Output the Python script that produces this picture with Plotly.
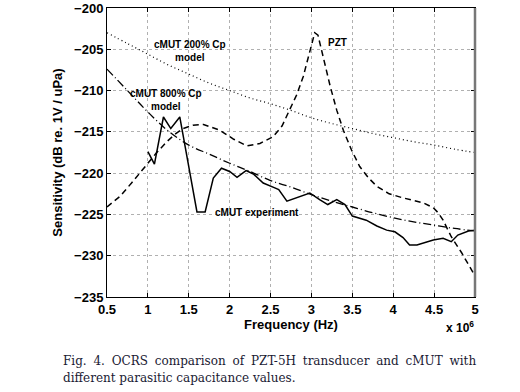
import plotly.graph_objects as go

# ---- data (frequency in units of 1e6 Hz, sensitivity in dB) ----
exp_f = [1.0, 1.08, 1.19, 1.28, 1.39, 1.60, 1.70, 1.80, 1.90, 2.0, 2.09, 2.2, 2.29, 2.41, 2.53,
         2.60, 2.70, 2.85, 2.98, 3.1, 3.2, 3.31, 3.41, 3.50, 3.67, 3.80, 3.92, 4.02, 4.12, 4.20,
         4.29, 4.49, 4.61, 4.71, 4.79, 4.92, 5.0]
exp_v = [-217.4, -218.9, -213.2, -214.6, -213.2, -224.7, -224.7, -220.6, -219.4, -219.8, -220.5,
         -219.7, -220.1, -221.2, -221.7, -222.0, -223.4, -222.9, -222.4, -223.2, -223.8, -223.2,
         -223.8, -225.2, -225.7, -226.4, -226.9, -227.1, -227.8, -228.7, -228.7, -228.1, -227.9,
         -228.3, -227.5, -227.0, -226.9]

m800_f = [0.5, 0.75, 1.0, 1.25, 1.5, 1.75, 2.0, 2.25, 2.5, 2.75, 3.0, 3.25, 3.5, 3.75, 4.0,
          4.25, 4.5, 4.75, 5.0]
m800_v = [-207.4, -210.0, -212.6, -214.9, -216.6, -217.7, -218.8, -219.8, -220.9, -221.7, -222.6,
          -223.4, -224.1, -224.8, -225.4, -225.9, -226.3, -226.7, -227.0]

m200_f = [0.5, 0.75, 1.0, 1.25, 1.5, 1.75, 2.0, 2.25, 2.5, 2.75, 3.0, 3.25, 3.5, 3.75, 4.0,
          4.25, 4.5, 4.75, 5.0]
m200_v = [-203.0, -204.3, -205.6, -206.9, -208.0, -209.1, -210.0, -210.9, -211.6, -212.4, -213.3,
          -214.0, -214.6, -215.2, -215.7, -216.2, -216.6, -217.1, -217.5]

pzt_f = [0.5, 0.66, 0.8, 0.985, 1.1, 1.23, 1.33, 1.43, 1.55, 1.68, 1.88, 2.05, 2.21, 2.37, 2.53,
         2.64, 2.74, 2.82, 2.9, 2.97, 3.04, 3.08, 3.15, 3.23, 3.31, 3.39, 3.49, 3.59, 3.7, 3.8,
         3.95, 4.12, 4.37, 4.49, 4.55, 4.61, 4.71, 4.84, 4.98, 5.0]
pzt_v = [-224.1, -222.8, -221.2, -219.0, -217.6, -216.2, -215.3, -214.6, -214.2, -214.1, -214.8,
         -215.9, -216.7, -216.4, -215.6, -214.3, -212.3, -210.5, -208.3, -205.5, -203.0, -203.3,
         -206.2, -209.5, -212.4, -214.8, -217.2, -219.2, -220.6, -221.6, -222.5, -223.0, -223.6,
         -224.2, -224.8, -225.7, -227.7, -229.7, -232.1, -232.5]

x_ticks = [0.5, 1, 1.5, 2, 2.5, 3, 3.5, 4, 4.5, 5]
y_ticks = [-200, -205, -210, -215, -220, -225, -230, -235]

fig = go.Figure()
line_col = "black"
fig.add_trace(go.Scatter(x=m200_f, y=m200_v, mode="lines", line=dict(color=line_col, width=1.2, dash="1px,3px"),
                         line_shape="spline"))
fig.add_trace(go.Scatter(x=m800_f, y=m800_v, mode="lines", line=dict(color=line_col, width=1.3, dash="8px,3px,1px,3px"),
                         line_shape="spline"))
fig.add_trace(go.Scatter(x=pzt_f, y=pzt_v, mode="lines", line=dict(color=line_col, width=1.5, dash="6px,4px")))
fig.add_trace(go.Scatter(x=exp_f, y=exp_v, mode="lines", line=dict(color=line_col, width=1.5)))

afont = dict(family="Liberation Sans, Arial, sans-serif", size=10, color="black")
def lab(x, y, t):
    fig.add_annotation(x=x, y=y, xref="x", yref="y", text="<b>" + t + "</b>", showarrow=False, font=afont)

lab(1.51, -205.2, "cMUT 200% Cp<br>model")
lab(1.22, -211.1, "cMUT 800% Cp<br>model")
lab(3.32, -204.2, "PZT")
lab(2.33, -224.8, "cMUT experiment")

# plot area in pixels: left 107, right 475, top 8, bottom 297
def px(xp):
    return (xp - 107) / 368.0
def py(yp):
    return (297 - yp) / 289.0

fig.add_annotation(x=px(476), y=py(317), xref="paper", yref="paper", xanchor="right", yanchor="top",
                   text="<b>x 10<sup>6</sup></b>", showarrow=False,
                   font=dict(family="Liberation Sans, Arial, sans-serif", size=12, color="black"))

cap_font = dict(family="DejaVu Serif, serif", size=12, color="#1a1a33")
gap = " \u2005"
line1 = gap.join(["Fig.", "4.", "OCRS", "comparison", "of", "PZT-5H", "transducer", "and", "cMUT", "with"])
fig.add_annotation(text=line1, showarrow=False, font=cap_font, xref="paper", yref="paper",
                   x=px(61), y=py(370), xanchor="left", yanchor="bottom")
fig.add_annotation(text="different parasitic capacitance values.", showarrow=False, font=cap_font,
                   xref="paper", yref="paper", x=px(61), y=py(387), xanchor="left", yanchor="bottom")

# thick grey right frame as in reference
fig.add_shape(type="line", xref="paper", yref="paper", x0=1, x1=1, y0=0, y1=1,
              line=dict(color="#777777", width=2.5))

tfont = dict(family="Liberation Sans, Arial, sans-serif", size=13, color="black")
axis_common = dict(showline=True, linecolor="black", linewidth=1, mirror="allticks", ticks="inside",
                   ticklen=4, tickcolor="black", showgrid=True, gridcolor="#b0b0b0", griddash="dot",
                   gridwidth=1, zeroline=False, tickfont=tfont, automargin=False)
fig.update_xaxes(range=[0.5, 5], tickvals=x_ticks, ticktext=["<b>%g</b>" % v for v in x_ticks],
                 title=dict(text="<b>Frequency (Hz)</b>", font=tfont, standoff=0), **axis_common)
fig.update_yaxes(range=[-235, -200], tickvals=y_ticks, ticktext=["<b>\u2212%g</b>" % -v for v in y_ticks],
                 title=dict(text="<b>Sensitivity (dB re. 1V / uPa)</b>", font=tfont, standoff=8), **axis_common)

fig.update_layout(width=520, height=392, margin=dict(l=107, r=45, t=8, b=95),
                  paper_bgcolor="white", plot_bgcolor="white", showlegend=False)
fig.write_html("out.html", config={"displayModeBar": False},
               post_script="document.body.style.margin='0';document.body.style.overflow='hidden';")
